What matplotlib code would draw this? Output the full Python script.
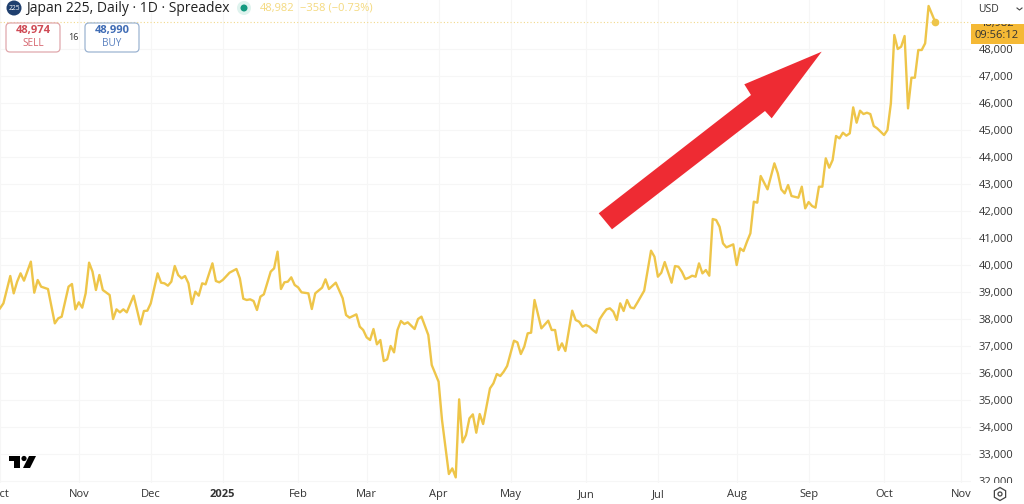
import matplotlib
matplotlib.use("Agg")
import matplotlib.pyplot as plt
from matplotlib.patches import Circle, FancyBboxPatch, Rectangle, Polygon, RegularPolygon

plt.rcParams['font.family'] = ['Open Sans', 'DejaVu Sans']

# bar number (trading session) and close
bars_a = [0, 1, 3, 4, 5, 6, 7, 9, 10, 11, 12, 14, 16, 17, 18, 20, 21, 22, 23, 24, 25, 26, 27, 28, 29, 30, 32, 33, 34, 35, 36, 37, 39, 41, 42, 43, 44, 46, 47, 48, 49, 50, 51, 52, 53, 54, 55, 56, 57, 58, 59, 60, 62, 63, 64, 65, 67, 69, 70, 71, 72, 73, 74, 75, 76, 77, 79, 80, 81, 82, 83, 84, 85, 86, 87, 88, 90, 91, 92, 94, 95, 96, 98]
close_a = [38394, 38580, 39592, 38950, 39382, 39691, 39419, 40123, 38975, 39444, 39197, 39110, 37838, 38024, 38086, 39197, 39296, 38357, 38617, 38419, 38950, 40086, 39753, 39074, 39629, 39074, 38888, 37999, 38357, 38246, 38357, 38246, 38864, 37801, 38296, 38308, 38580, 39691, 39345, 39321, 39234, 39382, 39963, 39629, 39506, 39592, 39321, 38555, 39012, 38864, 39321, 39283, 40062, 39407, 39358, 39444, 39716, 39852, 39506, 38752, 38703, 38728, 38666, 38333, 38827, 38913, 39753, 39876, 40494, 39110, 39358, 39382, 39543, 39259, 39172, 38987, 38950, 38370, 38950, 39160, 39469, 39110, 39345]

bars_b = [100, 101, 102, 104, 105, 106, 107, 108, 109, 110, 111, 112, 113, 114, 115, 116, 117, 118, 119, 121, 122, 123, 125, 126, 128, 129, 131, 132, 133, 134, 135, 136, 137, 138, 139, 140, 141, 143, 144, 145, 146, 147, 148, 150, 151, 152, 153, 154, 155, 156, 158, 160, 161, 162, 163, 164, 165, 167, 168, 169, 170, 171, 172, 173, 174, 175, 176, 177, 178, 179, 180, 181, 182, 183, 184, 185, 186, 187]
close_b = [38770, 38147, 38048, 38172, 37715, 37592, 37320, 37221, 37629, 37060, 37221, 36443, 36505, 37000, 36764, 37592, 37925, 37814, 37876, 37629, 38000, 38086, 37406, 36295, 35677, 34257, 32257, 32466, 32133, 35023, 33430, 33701, 34319, 34467, 33788, 34480, 34109, 35430, 35616, 35961, 35887, 36048, 36258, 37196, 37135, 36702, 36974, 37468, 37493, 38703, 37653, 37937, 37592, 37592, 36850, 37098, 36813, 38308, 37962, 37900, 37715, 37777, 37715, 37592, 37493, 37987, 38184, 38357, 38394, 38271, 37962, 38580, 38296, 38703, 38431, 38394, 38604, 38827]

bars_c = [188, 190, 191, 192, 193, 194, 196, 197, 198, 199, 200, 201, 202, 203, 204, 205, 206, 207, 208, 209, 210, 211, 212, 214, 215, 216, 217, 218, 219, 220, 221, 222, 224, 226, 227, 228, 229, 230, 231, 233, 234, 235, 236, 237, 238, 239, 240, 241, 242, 243, 244]
close_c = [39047, 40530, 40307, 39566, 39714, 40109, 39344, 39961, 39936, 39751, 39480, 39529, 39603, 39566, 40060, 39690, 39813, 39603, 41703, 41666, 41418, 40801, 40653, 40764, 39998, 40616, 40517, 40863, 41172, 42345, 42308, 43296, 42802, 43765, 43395, 42802, 42654, 42962, 42555, 42493, 42900, 42098, 42332, 42184, 42123, 42900, 42900, 43950, 43604, 43889, 44778]

bars_d = [245, 246, 247, 248, 249, 250, 251, 252, 253, 254, 255, 256, 258, 259, 260, 261, 262, 263, 264, 265, 266, 267, 268, 269, 270, 271, 273]
close_d = [44690, 44900, 44790, 44875, 45838, 45270, 45715, 45591, 45640, 45591, 45147, 45060, 44813, 44999, 45987, 48518, 47999, 48086, 48481, 45801, 46937, 46937, 47963, 47963, 48210, 49593, 48982]

month_bars = [0, 23, 44, 65, 87, 107, 128, 149, 171, 192, 215, 236, 258, 280.5]
month_labels = ['Oct', 'Nov', 'Dec', '2025', 'Feb', 'Mar', 'Apr', 'May', 'Jun', 'Jul', 'Aug', 'Sep', 'Oct', 'Nov']
price_ticks = list(range(32000, 49000, 1000))

bars = bars_a + bars_b + bars_c + bars_d
closes = close_a + close_b + close_c + close_d

W, H = 1024, 504
LINE = '#eec549'
GRID = '#f6f6f6'

fig = plt.figure(figsize=(W / 100, H / 100), dpi=100)
ax = fig.add_axes([0, 21 / H, 971 / W, 483 / H])
ax.plot(bars, closes, color=LINE, lw=1.7, solid_joinstyle='round', zorder=3)
ax.plot(bars[-1], closes[-1], 'o', color=LINE, ms=4.5, zorder=4)
ax.axhline(closes[-1], color='#f3d98a', lw=0.8, ls=(0, (1, 2)), zorder=2)

ax.set_xlim(1 / 3.43, 972 / 3.43)
ax.set_ylim(31925, 49815)
ax.set_xticks(month_bars)
ax.set_xticklabels(month_labels, fontsize=8, color='#333333')
ax.get_xticklabels()[3].set_fontweight('bold')
ax.set_yticks(price_ticks)
ax.set_yticklabels([f'{p:,}' for p in price_ticks], fontsize=8, color='#333333')
ax.yaxis.tick_right()
ax.tick_params(length=0)
ax.tick_params(axis='x', pad=4.5)
ax.tick_params(axis='y', pad=5.5)
ax.grid(True, color=GRID, lw=0.8)
ax.set_axisbelow(True)
for s in ax.spines.values():
    s.set_visible(False)

# overlay in pixel coordinates for header, arrow, badges
ov = fig.add_axes([0, 0, 1, 1])
ov.set_xlim(0, W)
ov.set_ylim(H, 0)
ov.axis('off')
ov.patch.set_alpha(0)

ov.add_patch(Polygon([(598.7, 213.3), (751, 95), (744.3, 84.3), (821.7, 51.7),
                      (771.7, 118.3), (765, 111), (612, 229.3)], color='#ee2b33', lw=0))

# header
ov.add_patch(Circle((14, 8), 7.5, color='#1f3f6e', lw=0))
ov.text(14, 8.2, '225', color='white', fontsize=4.8, ha='center', va='center')
ov.text(26, 8, 'Japan 225, Daily · 1D · Spreadex', color='#222222', fontsize=10, va='center')
ov.add_patch(Circle((244, 8), 7, color='#dff3ee', lw=0))
ov.add_patch(Circle((244, 8), 3.5, color='#149a80', lw=0))
ov.text(260, 8, '48,982', color='#f4d97e', fontsize=8, va='center')
ov.text(300, 8, '−358 (−0.73%)', color='#f4d97e', fontsize=8, va='center')

# sell / buy boxes
for x0, edge, txt, lab, col in [(6, '#e0a8ac', '48,974', 'SELL', '#cf4a55'),
                                (85, '#9db4d2', '48,990', 'BUY', '#3f6cb5')]:
    ov.add_patch(FancyBboxPatch((x0, 23), 54, 29, boxstyle='round,pad=0,rounding_size=4',
                                fc='white', ec=edge, lw=0.9))
    ov.text(x0 + 27, 31, txt, color=col, fontsize=8, fontweight='bold', ha='center', va='center')
    ov.text(x0 + 27, 44, lab, color=col, fontsize=7.2, ha='center', va='center', alpha=0.85)
ov.text(73, 37, '16', color='#333333', fontsize=6.5, ha='center', va='center')

# right axis extras
ov.add_patch(Rectangle((971, 24), 53, 20, fc='#f5b935', ec='none', zorder=3))
ov.text(997, 23.5, '48,982', color='#333333', fontsize=8, ha='center', va='center', zorder=4)
ov.text(997, 35, '09:56:12', color='#333333', fontsize=8, ha='center', va='center', zorder=4)
ov.add_patch(Rectangle((971, 0), 53, 24, fc='white', ec='none', zorder=5))
ov.text(978, 9, 'USD', color='#333333', fontsize=7.5, va='center', zorder=6)
ov.plot([1017, 1019.5, 1022], [8, 10, 8], color='#444444', lw=0.8, zorder=6)
ov.add_patch(Rectangle((972, 483), 52, 21, fc='white', ec='none', zorder=5))
ov.add_patch(RegularPolygon((1000, 494), 6, radius=6.5, fc='white', ec='#444444', lw=0.9, zorder=6))
ov.add_patch(Circle((1000, 494), 2, fc='white', ec='#444444', lw=0.9, zorder=7))

# chart logo
ov.add_patch(Polygon([(9, 456), (20, 456), (20, 468), (14, 468), (14, 461), (9, 461)], color='black', lw=0))
ov.add_patch(Circle((24, 458.5), 2.6, color='black', lw=0))
ov.add_patch(Polygon([(29, 456), (36, 456), (30, 468), (23, 468)], color='black', lw=0))

fig.savefig('out.png', dpi=100, facecolor='white')
